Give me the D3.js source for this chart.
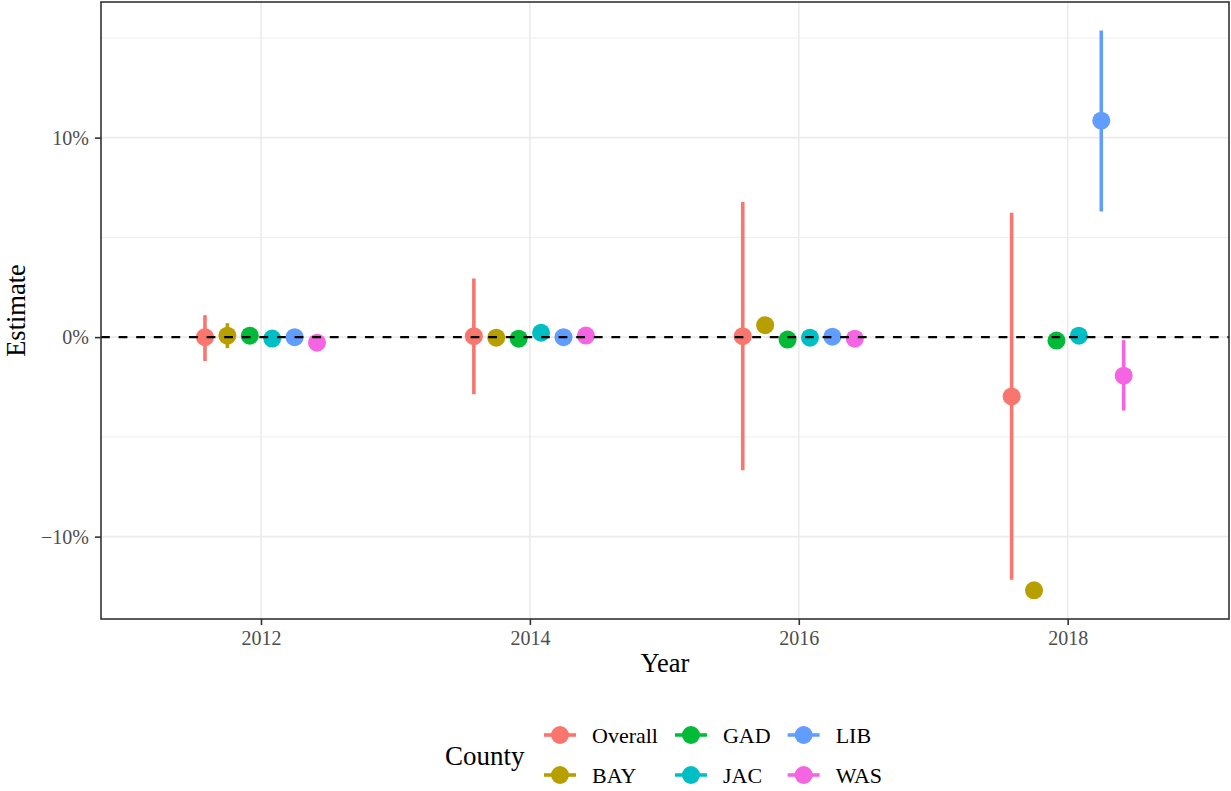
<!DOCTYPE html>
<html>
<head>
<meta charset="utf-8">
<script src="https://cdn.jsdelivr.net/npm/d3@7"></script>
<style>
  html, body { margin: 0; padding: 0; background: #ffffff; }
  svg { display: block; font-family: "Liberation Serif", "Times New Roman", serif; }
</style>
</head>
<body>
<svg id="chart" width="1231" height="791"></svg>
<script>
// Survey years and counties (dodged within each year)
const years = [2012, 2014, 2016, 2018];
const counties = ["Overall", "BAY", "GAD", "JAC", "LIB", "WAS"];
const countyColors = ["#F8766D", "#B79F00", "#00BA38", "#00BFC4", "#619CFF", "#F564E3"];

// Point estimates (%) per county, one value per year
const estOverall = [0.00, 0.05, 0.05, -2.97];
const estBAY     = [0.07, -0.03, 0.60, -12.69];
const estGAD     = [0.07, -0.08, -0.12, -0.17];
const estJAC     = [-0.07, 0.22, -0.03, 0.07];
const estLIB     = [0.00, 0.00, 0.02, 10.85];
const estWAS     = [-0.28, 0.08, -0.08, -1.93];

// Interval bounds (%); null where the interval is hidden behind the point
const loOverall = [-1.20, -2.86, -6.67, -12.16];
const hiOverall = [1.10, 2.94, 6.78, 6.24];
const loBAY = [-0.55, null, null, null];
const hiBAY = [0.70, null, null, null];
const loLIB = [null, null, null, 6.30];
const hiLIB = [null, null, null, 15.37];
const loWAS = [null, null, null, -3.68];
const hiWAS = [null, null, null, -0.15];
const noBounds = [null, null, null, null];

const yTicks = [-10, 0, 10];
const yMinorTicks = [-5, 5, 15];
const xTicks = [2012, 2014, 2016, 2018];

const series = [
  { county: "Overall", est: estOverall, lo: loOverall, hi: hiOverall },
  { county: "BAY", est: estBAY, lo: loBAY, hi: hiBAY },
  { county: "GAD", est: estGAD, lo: noBounds, hi: noBounds },
  { county: "JAC", est: estJAC, lo: noBounds, hi: noBounds },
  { county: "LIB", est: estLIB, lo: loLIB, hi: hiLIB },
  { county: "WAS", est: estWAS, lo: loWAS, hi: hiWAS }
];

const rows = [];
series.forEach(s => {
  years.forEach((yr, i) => {
    rows.push({ county: s.county, year: yr, est: s.est[i], lo: s.lo[i], hi: s.hi[i] });
  });
});

const svg = d3.select("#chart");
const panel = { left: 101, right: 1229, top: 2, bottom: 619 };

const x = d3.scaleLinear().domain([2010.81, 2019.2]).range([panel.left, panel.right]);
const y = d3.scaleLinear().domain([-14.13, 16.8]).range([panel.bottom, panel.top]);
const color = d3.scaleOrdinal().domain(counties).range(countyColors);
// position dodge: each county gets a slot of width 1/6 year around the year
const dodge = d3.scaleBand().domain(counties).range([-0.5, 0.5]);
const xPos = d => x(d.year + dodge(d.county) + dodge.bandwidth() / 2);

// grid
const grid = svg.append("g");
grid.selectAll(".ymin").data(yMinorTicks).join("line")
  .attr("x1", panel.left).attr("x2", panel.right)
  .attr("y1", d => y(d)).attr("y2", d => y(d))
  .attr("stroke", "#EBEBEB").attr("stroke-width", 0.9);
grid.selectAll(".ymaj").data(yTicks).join("line")
  .attr("x1", panel.left).attr("x2", panel.right)
  .attr("y1", d => y(d)).attr("y2", d => y(d))
  .attr("stroke", "#EBEBEB").attr("stroke-width", 1.6);
grid.selectAll(".xmaj").data(xTicks).join("line")
  .attr("y1", panel.top).attr("y2", panel.bottom)
  .attr("x1", d => x(d)).attr("x2", d => x(d))
  .attr("stroke", "#EBEBEB").attr("stroke-width", 1.6);

// interval bars
svg.append("g").selectAll("line")
  .data(rows.filter(d => d.lo !== null && d.hi !== null))
  .join("line")
  .attr("x1", xPos).attr("x2", xPos)
  .attr("y1", d => y(d.lo)).attr("y2", d => y(d.hi))
  .attr("stroke", d => color(d.county))
  .attr("stroke-width", 3.6);

// point estimates
svg.append("g").selectAll("circle")
  .data(rows)
  .join("circle")
  .attr("cx", xPos)
  .attr("cy", d => y(d.est))
  .attr("r", 9)
  .attr("fill", d => color(d.county));

// zero reference line
svg.append("line")
  .attr("x1", panel.left).attr("x2", panel.right)
  .attr("y1", y(0)).attr("y2", y(0))
  .attr("stroke", "#000").attr("stroke-width", 2.2)
  .attr("stroke-dasharray", "8.8,8.8");

// panel border
svg.append("rect")
  .attr("x", panel.left).attr("y", panel.top)
  .attr("width", panel.right - panel.left).attr("height", panel.bottom - panel.top)
  .attr("fill", "none").attr("stroke", "#333333").attr("stroke-width", 1.6);

// axes
const fmtPct = v => (v < 0 ? "\u2212" + Math.abs(v) : String(v)) + "%";
const yAxis = svg.append("g")
  .attr("transform", `translate(${panel.left},0)`)
  .call(d3.axisLeft(y).tickValues(yTicks).tickFormat(fmtPct).tickSize(6).tickPadding(6));
const xAxis = svg.append("g")
  .attr("transform", `translate(0,${panel.bottom})`)
  .call(d3.axisBottom(x).tickValues(xTicks).tickFormat(d3.format("d")).tickSize(6).tickPadding(6));
[yAxis, xAxis].forEach(g => {
  g.select(".domain").remove();
  g.selectAll(".tick line").attr("stroke", "#333333").attr("stroke-width", 1.6);
  g.selectAll(".tick text")
    .attr("fill", "#4D4D4D")
    .style("font-family", "'Liberation Serif', serif")
    .style("font-size", "20px");
});

// axis titles
svg.append("text")
  .attr("x", (panel.left + panel.right) / 2).attr("y", 672)
  .attr("text-anchor", "middle")
  .style("font-size", "26.5px").attr("fill", "#000")
  .text("Year");
svg.append("text")
  .attr("transform", `translate(25,${(panel.top + panel.bottom) / 2}) rotate(-90)`)
  .attr("text-anchor", "middle")
  .style("font-size", "26.5px").attr("fill", "#000")
  .text("Estimate");

// legend: 3 columns x 2 rows, filled by column
const legend = svg.append("g");
legend.append("text")
  .attr("x", 445).attr("y", 765)
  .style("font-size", "27px").attr("fill", "#000")
  .text("County");

const rowY = [735, 775];
let keyLeft = 544;
for (let c = 0; c < 3; c++) {
  const pair = counties.slice(c * 2, c * 2 + 2);
  let maxW = 0;
  pair.forEach((name, r) => {
    const g = legend.append("g");
    g.append("line")
      .attr("x1", keyLeft).attr("x2", keyLeft + 32)
      .attr("y1", rowY[r]).attr("y2", rowY[r])
      .attr("stroke", color(name)).attr("stroke-width", 3.6);
    g.append("circle")
      .attr("cx", keyLeft + 16).attr("cy", rowY[r]).attr("r", 9)
      .attr("fill", color(name));
    const t = g.append("text")
      .attr("x", keyLeft + 48).attr("y", rowY[r] + 8)
      .style("font-size", "22px").attr("fill", "#000")
      .text(name);
    maxW = Math.max(maxW, t.node().getComputedTextLength());
  });
  keyLeft = keyLeft + 48 + maxW + 17;
}
</script>
</body>
</html>
